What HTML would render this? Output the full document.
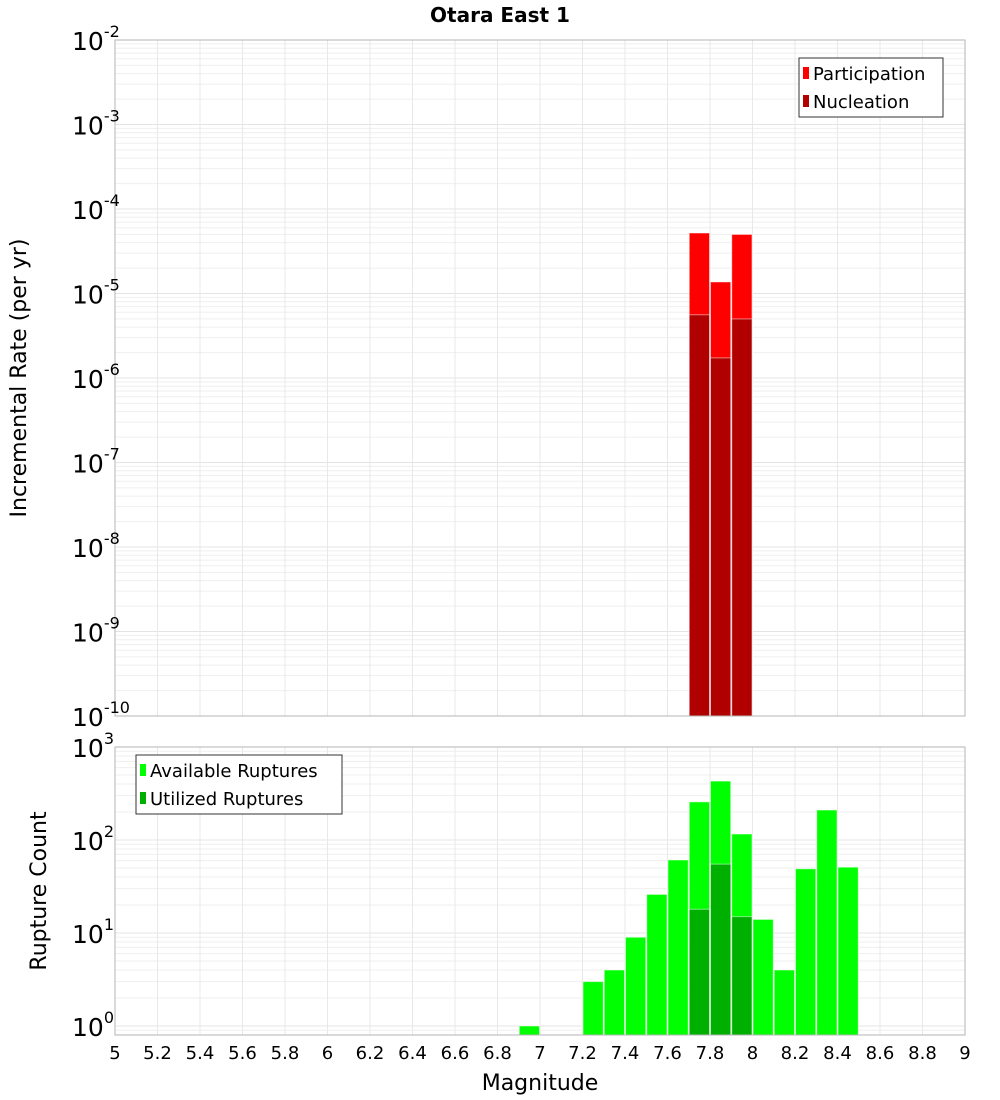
<!DOCTYPE html>
<html><head><meta charset="utf-8"><style>
html,body{margin:0;padding:0;background:#fff;}
svg{display:block;font-family:"DejaVu Sans","Liberation Sans",sans-serif;}
</style></head><body>
<svg id="c" width="1000" height="1100" xmlns="http://www.w3.org/2000/svg"></svg>
<script>
const binCenters = [7.75, 7.85, 7.95];
const participation = [5.2e-5, 1.37e-5, 5.0e-5];
const nucleation = [5.6e-6, 1.73e-6, 5.0e-6];
const rupMags = [6.95, 7.25, 7.35, 7.45, 7.55, 7.65, 7.75, 7.85, 7.95, 8.05, 8.15, 8.25, 8.35, 8.45];
const available = [1, 3, 4, 9, 26, 61, 257, 430, 116, 14, 4, 49, 210, 51];
const utilMags = [7.75, 7.85, 7.95];
const utilized = [18, 55, 15];
const xTicks = ["5","5.2","5.4","5.6","5.8","6","6.2","6.4","6.6","6.8","7","7.2","7.4","7.6","7.8","8","8.2","8.4","8.6","8.8","9"];
const topExps = [-10,-9,-8,-7,-6,-5,-4,-3,-2];
const botExps = [0,1,2,3];

const NS="http://www.w3.org/2000/svg", svg=document.getElementById('c');
function el(t,a,p){const e=document.createElementNS(NS,t);for(const k in a)e.setAttribute(k,a[k]);(p||svg).appendChild(e);return e;}
const L=115,R=965;
const X=m=>L+(m-5)*(R-L)/4;
const T0=40,T1=716; const Yt=v=>T1-(Math.log10(v)+10)*(T1-T0)/8;
const B0=747,B1=1035,BD=93; const Yb=v=>B0+(3-Math.log10(v))*BD;
const bw=(R-L)/40;

function grid(y0,y1,yf,eMin,eMax,name){
  const g=el('g',{});
  for(let e=eMin-1;e<=eMax;e++)for(let k=1;k<10;k++){const y=yf(k*Math.pow(10,e));if(y<y0-0.5||y>y1+0.5)continue;
    el('line',{x1:L,x2:R,y1:y,y2:y,stroke:k==1?'#e4e4e4':'#efefef','stroke-width':1},g);}
  xTicks.forEach(t=>{const x=X(+t);el('line',{x1:x,x2:x,y1:y0,y2:y1,stroke:'#e8e8e8','stroke-width':1},g);});
}
grid(T0,T1,Yt,-10,-2,'top-grid');
grid(B0,B1,Yb,0,3,'bottom-grid');

function bar(m,v,yf,ybase,fill,name){const r=el('rect',{x:X(m)-bw/2+0.5,y:yf(v),width:bw-1,height:ybase-yf(v),fill:fill,stroke:'#ffffff','stroke-opacity':0.5,'stroke-width':1});
  }
binCenters.forEach((m,i)=>bar(m,participation[i],Yt,T1,'#ff0000','participation-bar'));
binCenters.forEach((m,i)=>bar(m,nucleation[i],Yt,T1,'#b00000','nucleation-bar'));
rupMags.forEach((m,i)=>bar(m,available[i],Yb,B1,'#00ff00','available-bar'));
utilMags.forEach((m,i)=>bar(m,utilized[i],Yb,B1,'#00b000','utilized-bar'));

el('rect',{x:L,y:T0,width:R-L,height:T1-T0,fill:'none',stroke:'#b4b4b4'});
el('rect',{x:L,y:B0,width:R-L,height:B1-B0,fill:'none',stroke:'#b4b4b4'});

function txt(x,y,s,a,name){const t=el('text',a);t.setAttribute('x',x);t.setAttribute('y',y);t.textContent=s;return t;}
function powLabel(y,e,name){const t=txt(108,y+10,'',{'font-size':25,'text-anchor':'end',fill:'#000'},name);
  const a=document.createElementNS(NS,'tspan');a.textContent='10';t.appendChild(a);
  const b=document.createElementNS(NS,'tspan');b.textContent=e;b.setAttribute('dy','-13');b.setAttribute('font-size','16');t.appendChild(b);
  t.setAttribute('text-anchor','start');t.setAttribute('x',72);}
topExps.forEach(e=>powLabel(Yt(Math.pow(10,e)),String(e),'top-y-tick'));
botExps.forEach(e=>powLabel(Yb(Math.pow(10,e)),String(e),'bottom-y-tick'));
xTicks.forEach(t=>txt(X(+t),1059,t,{'font-size':18,'text-anchor':'middle',fill:'#000'},'x-tick'));
txt(500,22,'Otara East 1',{'font-size':20,'font-weight':'bold','text-anchor':'middle'},'chart-title');
txt(540,1090,'Magnitude',{'font-size':22,'text-anchor':'middle'},'x-axis-title');
txt(0,0,'Incremental Rate (per yr)',{'font-size':22,'text-anchor':'middle',transform:'translate(26,378) rotate(-90)'},'top-y-axis-title');
txt(0,0,'Rupture Count',{'font-size':22,'text-anchor':'middle',transform:'translate(46,891) rotate(-90)'},'bottom-y-axis-title');

function legend(x,y,w,items,name){const g=el('g',{});
  el('rect',{x:x,y:y,width:w,height:59,fill:'#fff',stroke:'#333'},g);
  items.forEach((it,i)=>{const cy=y+15+i*28;el('rect',{x:x+4,y:cy-6,width:6,height:12,fill:it[1]},g);
    const t=el('text',{x:x+14,y:cy+7,'font-size':18,fill:'#000'},g);t.textContent=it[0];});}
legend(799,58,144,[['Participation','#ff0000'],['Nucleation','#b00000']],'top-legend');
legend(136,755,206,[['Available Ruptures','#00ff00'],['Utilized Ruptures','#00b000']],'bottom-legend');
</script>
</body></html>
